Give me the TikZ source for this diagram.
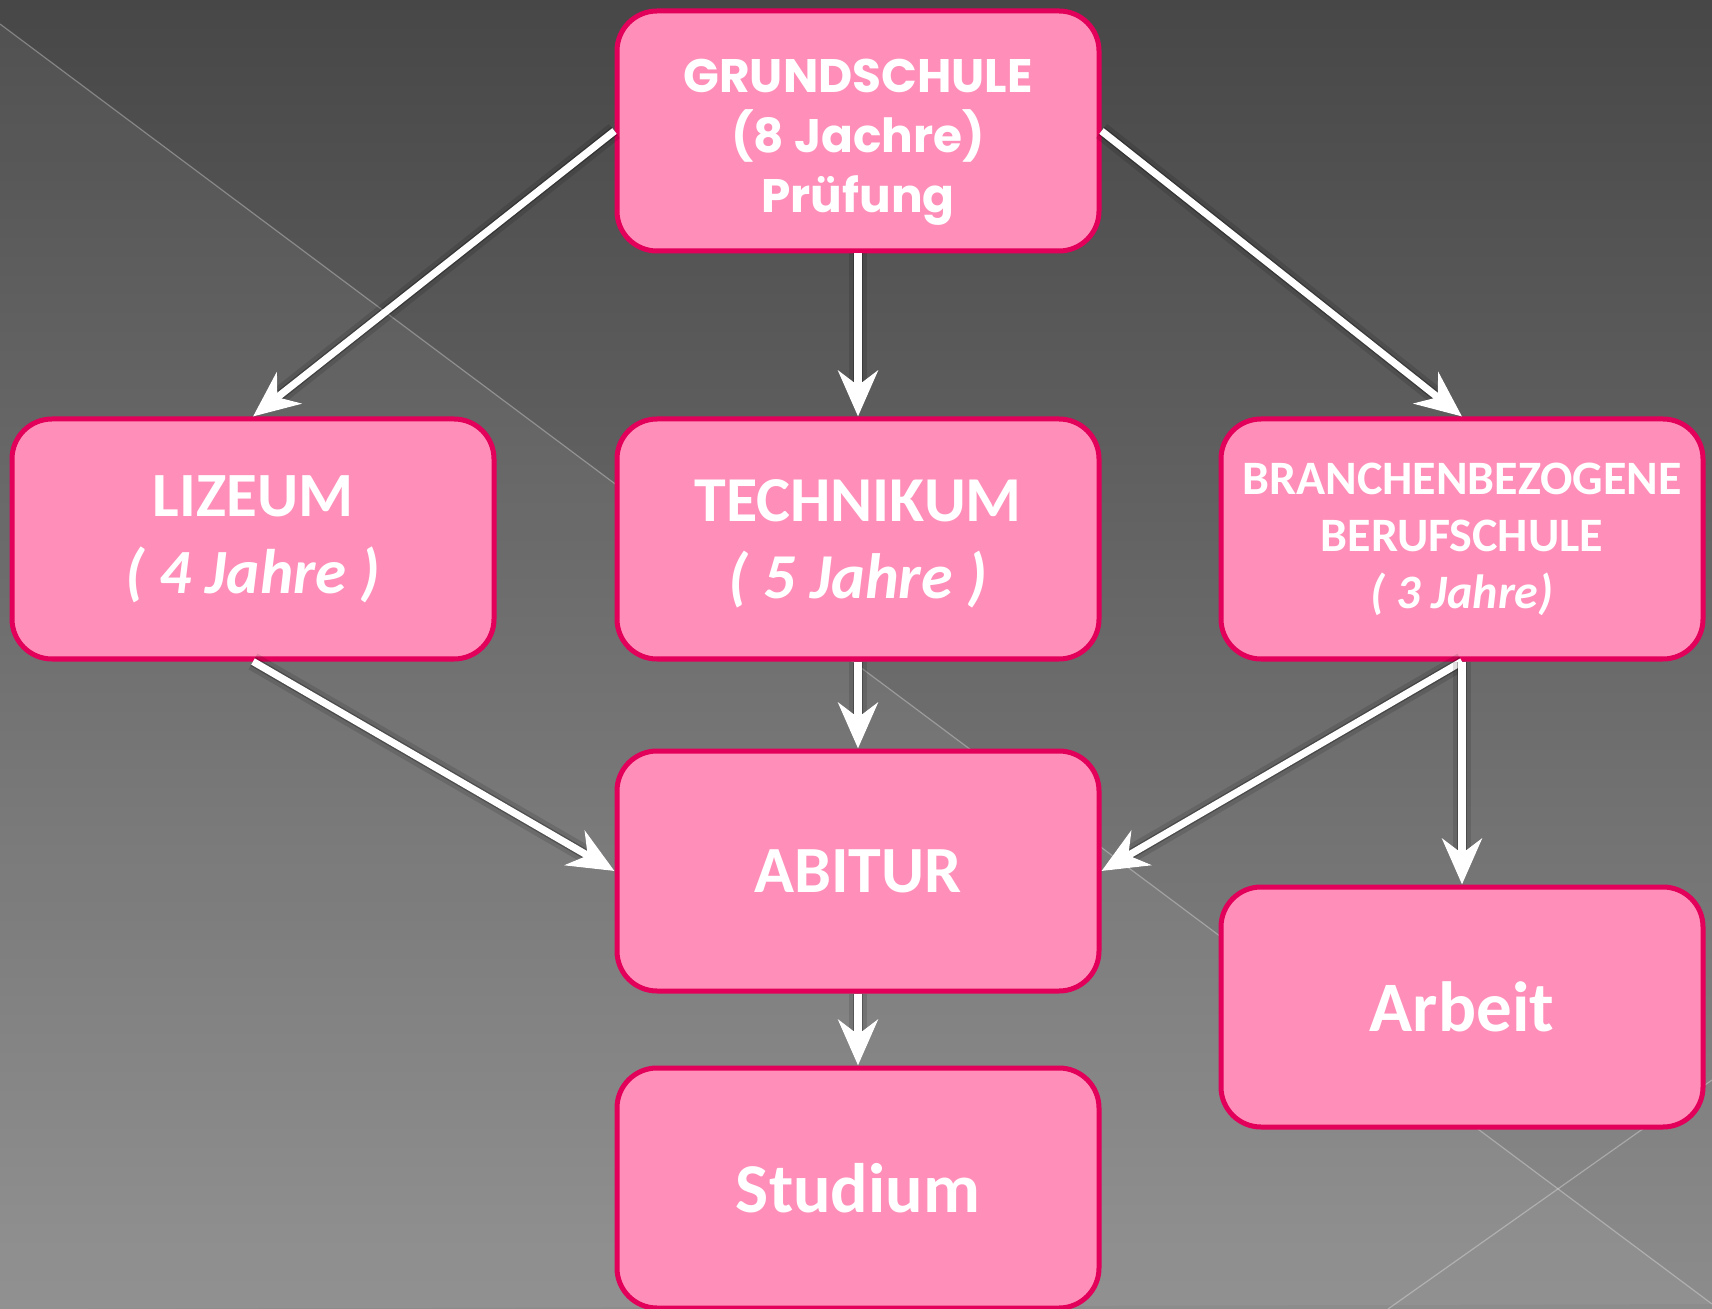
\documentclass[tikz,border=0pt]{standalone}
\usepackage{fontspec}
\setmainfont{Carlito}
\newfontfamily\gothic{Poppins}
\usetikzlibrary{arrows.meta}

\definecolor{boxfill}{HTML}{FF8FB8}
\definecolor{boxline}{HTML}{E2005A}
\definecolor{bgtop}{HTML}{474747}
\definecolor{bgbottom}{HTML}{8C8C8C}

\begin{document}
\begin{tikzpicture}[x=0.5pt, y=-0.5pt,  % 坐标按像素写, y 轴向下
    schule/.style={draw=boxline, fill=boxfill, line width=2.5pt, rounded corners=20pt,
        minimum width=241pt, minimum height=120pt, inner sep=0pt, text=white, align=center},
    pfeil/.style={draw=white, line width=3.6pt, -{Stealth[length=23pt, width=20pt, inset=7.5pt]},
        preaction={draw=black, opacity=0.12, line width=9pt, shift={(-4,-4)}},
        preaction={draw=black, opacity=0.25, line width=5pt, shift={(-3,-3)}}}]
    % 背景: 灰色渐变和两条细斜线
    \useasboundingbox (0,0) rectangle (1712,1309);
    \clip (0,0) rectangle (1712,1309);
    \shade[top color=bgtop, bottom color=bgbottom] (0,0) rectangle (1712,1309);
    \fill[white, opacity=0.05] (0,24) -- (1712,1304) -- (0,1309) -- cycle;
    \draw[white, opacity=0.3, line width=0.6pt] (0,24) -- (1712,1304);
    \draw[white, opacity=0.3, line width=0.6pt] (1388,1309) -- (1712,1080);

    % 方框
    \node[schule, font=\gothic\bfseries\fontsize{23.5}{30}\selectfont] (grund) at (858,131)
        {\rule{0pt}{28pt}GRUNDSCHULE\\(8 Jachre)\\Prüfung};
    \node[schule, font=\bfseries\fontsize{31.5}{38.5}\selectfont] (lizeum) at (253,539)
        {LIZEUM\\\textit{( 4 Jahre )}};
    \node[schule, font=\bfseries\fontsize{32}{38.5}\selectfont, text depth=0pt] (technikum) at (858,539)
        {TECHNIKUM\\\textit{( 5 Jahre )}};
    \node[schule, font=\bfseries\fontsize{24}{28.5}\selectfont] (branchen) at (1462,539)
        {BRANCHENBEZOGENE\\BERUFSCHULE\\\textit{( 3 Jahre)}};
    \node[schule, font=\bfseries\fontsize{33}{40}\selectfont] (abitur) at (858,871) {ABITUR};
    \node[schule, font=\bfseries\fontsize{35.5}{42}\selectfont] (arbeit) at (1462,1007) {Arbeit};
    \node[schule, font=\bfseries\fontsize{35}{40}\selectfont] (studium) at (858,1188) {Studium};

    % 箭头
    \draw[pfeil] (grund.west) -- (lizeum.north);
    \draw[pfeil] (grund.south) -- (technikum.north);
    \draw[pfeil] (grund.east) -- (branchen.north);
    \draw[pfeil] (lizeum.south) -- (abitur.west);
    \draw[pfeil] (technikum.south) -- (abitur.north);
    \draw[pfeil] (branchen.south) -- (abitur.east);
    \draw[pfeil] (branchen.south) -- (arbeit.north);
    \draw[pfeil] (abitur.south) -- (studium.north);
\end{tikzpicture}
\end{document}
